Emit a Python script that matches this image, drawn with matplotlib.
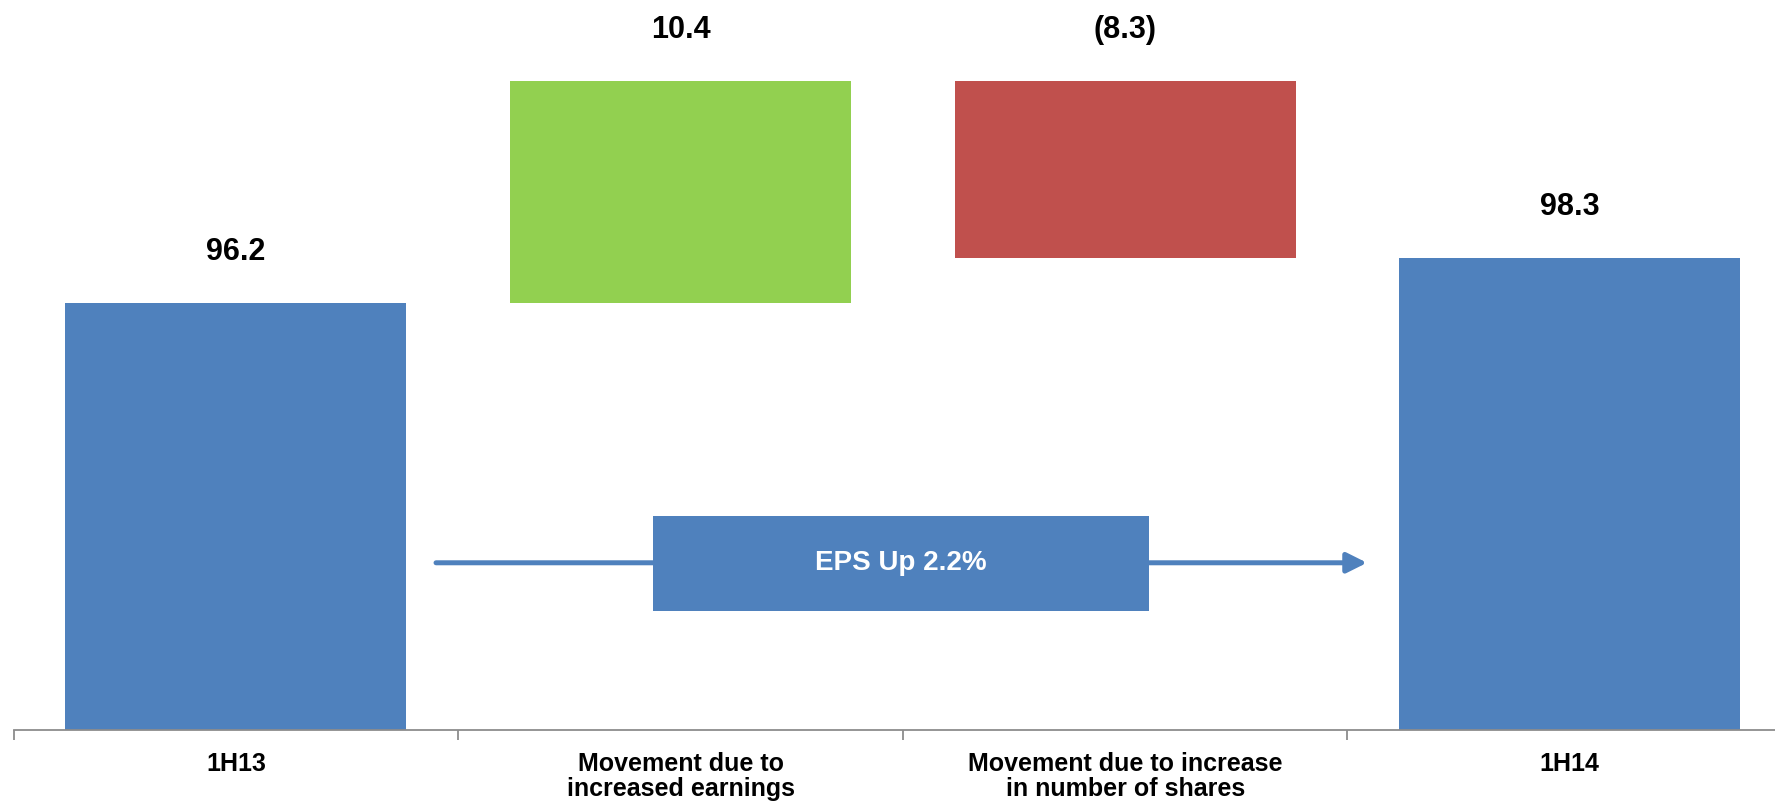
import matplotlib.pyplot as plt
from matplotlib.patches import Rectangle

plt.rcParams['font.family'] = ['Liberation Sans', 'DejaVu Sans']

categories = ["1H13", "Movement due to\nincreased earnings",
              "Movement due to increase\nin number of shares", "1H14"]
start_value = 96.2
movements = [10.4, -8.3]
end_value = 98.3
value_labels = ["96.2", "10.4", "(8.3)", "98.3"]
callout_text = "EPS Up 2.2%"

blue = "#4F81BD"
green = "#92D050"
red = "#C0504D"

### waterfall bottoms / heights
y_min = 76.15
bottoms = [y_min]
heights = [start_value - y_min]
level = start_value
for m in movements:
    bottoms.append(min(level, level + m))
    heights.append(abs(m))
    level += m
bottoms.append(y_min)
heights.append(end_value - y_min)
colors = [blue, green if movements[0] > 0 else red,
          green if movements[1] > 0 else red, blue]

fig = plt.figure(figsize=(17.75, 8.02), dpi=100)
ax = fig.add_axes([0.0077, 0.0898, 1.0019, 0.9102])

x = list(range(len(categories)))
ax.bar(x, heights, bottom=bottoms, width=0.767, color=colors, zorder=2)

for xi, b, h, lab in zip(x, bottoms, heights, value_labels):
    ax.text(xi, b + h + 2.4, lab, ha='center', va='center',
            fontsize=22, fontweight='bold')

### arrow with the callout box on top
ax.annotate("", xy=(2.544, 84.0), xytext=(0.45, 84.0),
            arrowprops=dict(arrowstyle='-|>,head_length=0.6,head_width=0.3',
                            color=blue, lw=3.6, mutation_scale=20,
                            shrinkA=0, shrinkB=0), zorder=3)
ax.add_patch(Rectangle((0.938, 81.74), 2.054 - 0.938, 86.2 - 81.74,
                       facecolor=blue, edgecolor='none', zorder=4))
ax.text((0.938 + 2.054) / 2, (81.74 + 86.2) / 2, callout_text, ha='center',
        va='center', color='white', fontsize=20, fontweight='bold', zorder=5)

ax.set_xlim(-0.5, 3.5)
ax.set_ylim(y_min, y_min + 730 / 21.3)

for side in ['top', 'right', 'left']:
    ax.spines[side].set_visible(False)
ax.spines['bottom'].set_color('#8c8c8c')
ax.spines['bottom'].set_linewidth(1.3)
ax.set_yticks([])

ax.set_xticks(x)
ax.set_xticklabels(categories, fontsize=18, fontweight='bold', linespacing=1.05)
ax.tick_params(axis='x', which='major', length=0, pad=16)
ax.set_xticks([-0.5, 0.5, 1.5, 2.5, 3.5], minor=True)
ax.tick_params(axis='x', which='minor', length=7, width=1.3, color='#8c8c8c',
               direction='out')

fig.savefig("out.png", dpi=100)
